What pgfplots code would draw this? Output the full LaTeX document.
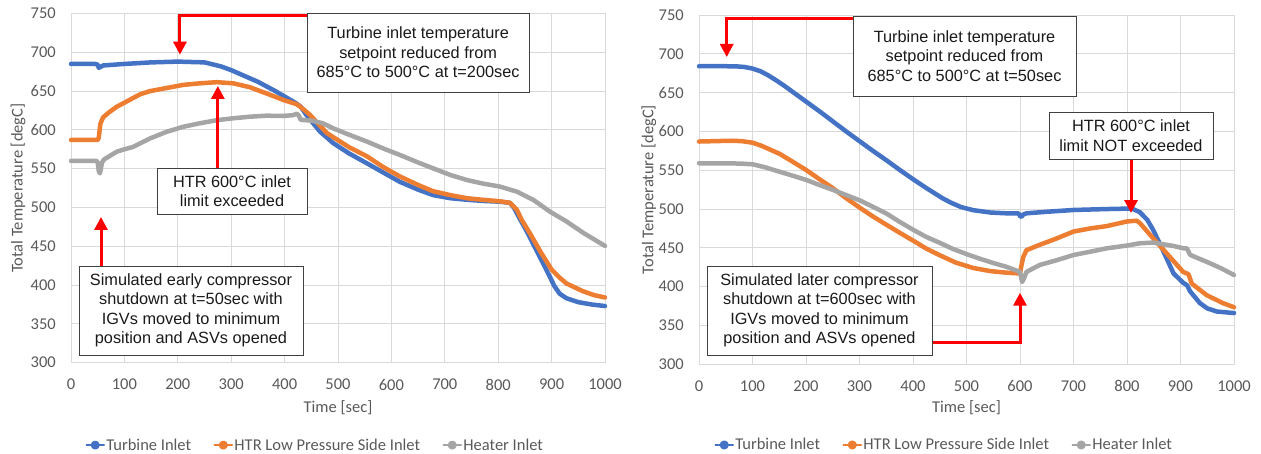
\documentclass[border=0pt]{standalone}
\usepackage{fontspec}
\setmainfont{Carlito}
\newfontfamily\arialf{Liberation Sans}
\usepackage{pgfplots}
\pgfplotsset{compat=1.18}
\usetikzlibrary{arrows.meta}
\definecolor{exblue}{HTML}{4472C4}
\definecolor{exorange}{HTML}{ED7D31}
\definecolor{exgray}{HTML}{A5A5A5}
\definecolor{gridc}{HTML}{D9D9D9}
\definecolor{txt}{HTML}{595959}
\definecolor{anntxt}{HTML}{1A1A1A}
\newcommand{\tfont}{\fontsize{16.5}{19}\selectfont}
\newcommand{\afont}{\arialf\fontsize{16.3}{19.5}\selectfont}
\tikzset{
  arr/.style={red, line width=3pt, -{Triangle[length=13pt,width=13pt]}},
  box/.style={draw=black!75, fill=white, line width=0.9pt, align=center, font=\afont, text=anntxt, inner sep=0pt},
}
\pgfplotsset{
  panel/.style={
    scale only axis, width=534pt, height=349.2pt,
    xmin=0, xmax=1000, ymin=300, ymax=750,
    xtick={0,100,...,1000}, ytick={300,350,...,750},
    grid=major, major grid style={gridc, line width=0.8pt},
    axis line style={gridc, line width=0.8pt},
    tick style={draw=none},
    ticklabel style={font=\tfont, text=txt},
    yticklabel style={anchor=east, inner sep=0pt, xshift=-15pt},
    xticklabel style={anchor=north, inner sep=0pt, yshift=-16pt},
    /pgf/number format/assume math mode=true,
    /pgf/number format/set thousands separator={},
    xlabel={Time [sec]}, ylabel={Total Temperature [degC]},
    clip=false,
    legend columns=3,
    legend style={draw=none, fill=none, font=\tfont, text=txt,
      nodes={inner xsep=1.5pt},
      /tikz/every even column/.append style={column sep=21pt}},
    legend image code/.code={
      \draw[##1, line width=1.3pt] (0pt,0pt) -- (18pt,0pt);
      \fill[##1] (9pt,0pt) circle (2.2pt);},
    every axis plot/.append style={line width=4.5pt, line join=round, line cap=round},
  },
}
\begin{document}
\begin{tikzpicture}
\path[use as bounding box] (0,0) rectangle (1261pt,454pt);
% ---------------- left panel ----------------
\begin{axis}[panel, at={(71pt,91.3pt)}, anchor=south west,
  every axis x label/.style={at={(axis description cs:0.5,-0.13)}, anchor=center, font=\tfont, text=txt},
  every axis y label/.style={at={(axis description cs:-0.0993,0.5)}, rotate=90, anchor=center, font=\tfont, text=txt},
  legend style={at={(axis description cs:0.457,-0.236)}, anchor=center}]
\addplot[exblue] coordinates {
(0,685) (45,685) (50,684) (52,680) (55,681) (60,683) (100,685) (150,687) (200,688)
(250,687) (280,682) (300,677) (330,668) (350,662) (380,651) (400,643) (420,635)
(430,630) (440,620) (466,598) (491,583) (520,570) (554,557) (585,545) (616,533)
(650,523) (678,516) (710,512) (741,510) (770,508.5) (803,507.5) (822,506) (830,499)
(840,486) (853,470) (870,447) (890,420) (905,399) (915,389) (928,383) (950,378)
(975,375) (1000,373)};
\addplot[exorange] coordinates {
(0,587) (50,587) (52,590) (55,608) (60,616) (70,622) (86,630) (100,635) (116,641)
(130,646) (148,650) (179,654) (210,658) (241,660) (273,661.5) (304,660) (335,655)
(366,647) (398,638.5) (423,633) (429,630) (438,625) (448,619) (479,596) (520,578)
(554,566) (585,552) (616,540) (650,529) (678,521) (710,516) (741,512) (770,510)
(803,508) (822,506) (835,497) (844,484) (860,466) (880,442) (900,420) (916,409)
(928,402) (959,392) (980,387) (1000,384)};
\addplot[exgray] coordinates {
(0,560) (48,560) (50,558) (52,547) (54,544) (56,550) (58,558) (62,562) (86,572)
(100,575) (116,578) (148,589) (179,597.5) (210,604) (241,608.5) (273,612.5) (304,615)
(335,617) (366,618.3) (398,618) (416,619) (423,621) (427,618) (430,613) (450,612)
(472,608.5) (491,602) (520,594) (554,585) (585,576) (616,567.7) (650,558) (678,550.5)
(710,542) (741,535.5) (770,531) (803,527) (835,520.4) (866,509.7) (897,494.6)
(928,482) (960,467) (1000,450.5)};
\legend{Turbine Inlet, HTR Low Pressure Side Inlet, Heater Inlet}
\draw[arr] (axis cs:442,748) -- (axis cs:204,748) -- (axis cs:204,697);
\draw[arr] (axis cs:275,551) -- (axis cs:275,656.6);
\draw[arr] (axis cs:56.2,424.6) -- (axis cs:56.2,487.8);
\node[box, minimum width=222pt, minimum height=79pt] at (axis cs:650,699.7)
  {Turbine inlet temperature\\setpoint reduced from\\685°C to 500°C at t=200sec};
\node[box, minimum width=150pt, minimum height=46pt] at (axis cs:301.5,521.2)
  {HTR 600°C inlet\\limit exceeded};
\node[box, minimum width=224pt, minimum height=89pt] at (axis cs:224.7,367.3)
  {Simulated early compressor\\shutdown at t=50sec with\\IGVs moved to minimum\\position and ASVs opened};
\end{axis}
% ---------------- right panel ----------------
\begin{axis}[panel, at={(699pt,89.7pt)}, anchor=south west, width=535pt, height=349.3pt,
  every axis x label/.style={at={(axis description cs:0.5,-0.125)}, anchor=center, font=\tfont, text=txt},
  every axis y label/.style={at={(axis description cs:-0.094,0.5)}, rotate=90, anchor=center, font=\tfont, text=txt},
  legend style={at={(axis description cs:0.458,-0.231)}, anchor=center}]
\addplot[exblue] coordinates {
(0,684) (50,684) (70,683.8) (85,683) (100,681) (115,677.5) (130,672) (145,665.5)
(160,658.5) (180,648.5) (200,638.5) (225,626) (251,612.5) (275,600) (301,587)
(325,575) (351,562.5) (375,550.5) (401,538) (425,527) (440,520.5) (455,514)
(470,508.5) (490,502.5) (513,498.5) (545,495.5) (575,494.5) (597,494.5) (600,491)
(603,490) (606,493) (612,494.5) (650,496.5) (700,498.8) (762,500) (809,500.7)
(824,496) (838,486) (849,473) (865,450) (887,417) (905,405) (912,402) (918,394)
(936,379) (950,372) (968,368) (1000,366)};
\addplot[exorange] coordinates {
(0,587) (30,587.5) (60,588) (80,587.5) (100,585.5) (115,582) (130,577.5) (151,571)
(175,561) (201,550) (225,538.5) (251,526.5) (275,514) (301,501.5) (325,490.5)
(351,479.5) (375,469.5) (401,459) (425,449) (450,440.5) (480,431) (513,424)
(545,420) (575,418) (600,417) (602,425) (606,438) (612,447) (637,454) (668,462)
(700,471) (731,475) (762,478) (800,484) (818,485) (824,482) (843,467) (874,443)
(905,419) (915,416) (921,404) (949,389) (980,378.6) (1000,373.5)};
\addplot[exgray] coordinates {
(0,559) (50,559) (80,558.5) (101,557.6) (125,553.5) (151,548) (175,543) (201,537.4)
(225,531) (251,524.5) (275,518) (301,511) (325,503) (351,494) (375,483.5) (401,473)
(425,464) (450,456.5) (475,448.5) (500,442) (525,436) (550,430.5) (575,425.5)
(600,419) (602,412) (604,406) (607,410) (612,419) (637,428) (668,434) (700,440.8)
(731,445) (762,449.4) (800,453) (824,455.9) (849,456.8) (887,452.4) (905,449.5)
(912,449.4) (918,441) (935,436) (949,432) (975,424) (1000,415)};
\legend{Turbine Inlet, HTR Low Pressure Side Inlet, Heater Inlet}
\draw[arr] (axis cs:287.9,746.1) -- (axis cs:51.8,746.1) -- (axis cs:51.8,695.9);
\draw[arr] (axis cs:807.5,564.5) -- (axis cs:807.5,494.9);
\draw[arr] (axis cs:435.5,327.8) -- (axis cs:600,327.8) -- (axis cs:600,392.2);
\node[box, minimum width=223pt, minimum height=80pt] at (axis cs:496.3,697.2)
  {Turbine inlet temperature\\setpoint reduced from\\685°C to 500°C at t=50sec};
\node[box, minimum width=164pt, minimum height=47pt] at (axis cs:807.5,594.8)
  {HTR 600°C inlet\\limit NOT exceeded};
\node[box, minimum width=225pt, minimum height=89pt] at (axis cs:225.2,369.3)
  {Simulated later compressor\\shutdown at t=600sec with\\IGVs moved to minimum\\position and ASVs opened};
\end{axis}
\end{tikzpicture}
\end{document}
